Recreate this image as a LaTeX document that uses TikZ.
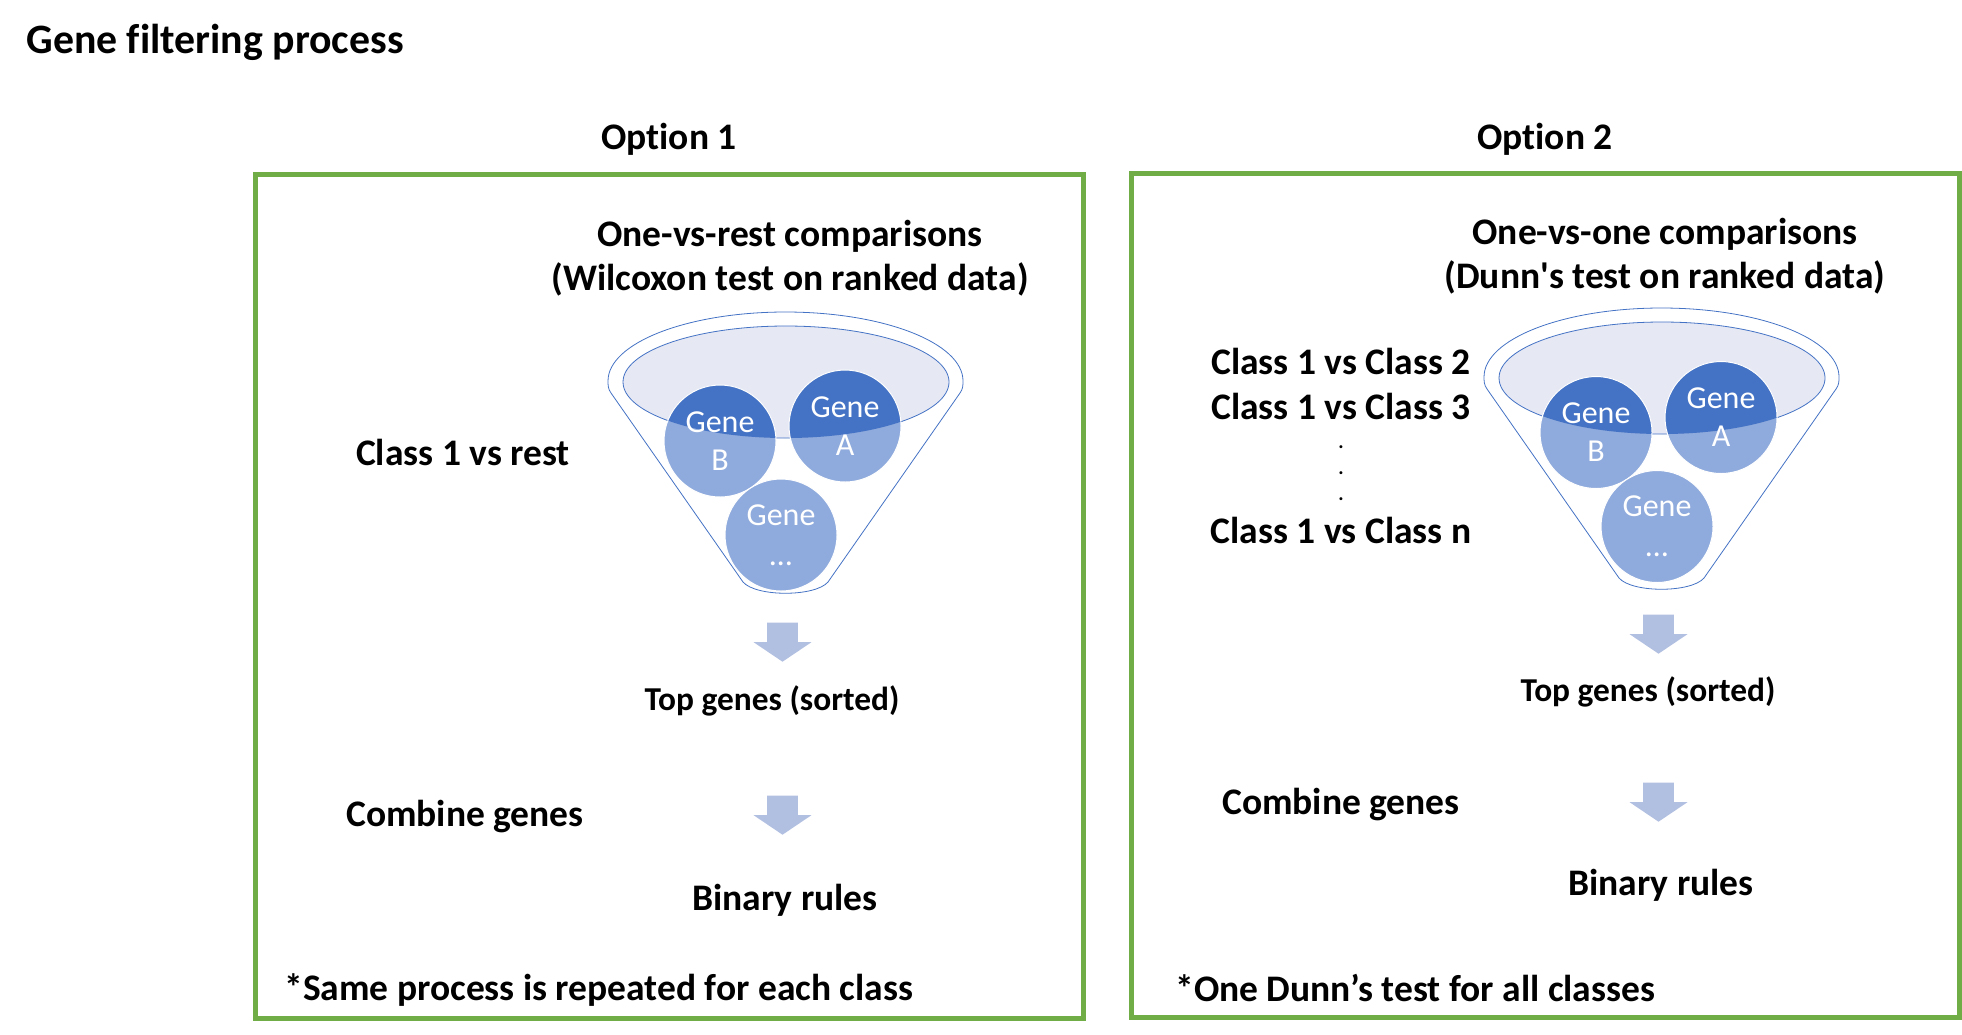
\documentclass[tikz,border=0pt]{standalone}
\usepackage{fontspec}
\setmainfont[Ligatures=NoCommon]{Carlito}
\usetikzlibrary{positioning, shapes.geometric, shapes.arrows}

\definecolor{framegreen}{HTML}{70AD47}
\definecolor{genedark}{HTML}{4472C4}
\definecolor{genelight}{HTML}{8FAADC}
\definecolor{funneltop}{HTML}{E6E8F4}
\definecolor{arrowblue}{HTML}{B1BFE0}

\tikzset{
    optionbox/.style={draw=framegreen, line width=2.5pt, minimum width=414pt, minimum height=422pt, inner sep=0pt},
    heading/.style={font=\fontsize{18.75}{22}\selectfont\bfseries, align=center, inner sep=0pt},
    smallheading/.style={font=\fontsize{16.7}{18}\selectfont\bfseries, align=center, inner sep=0pt},
    dotmark/.style={font=\fontsize{10}{10}\selectfont\bfseries, inner sep=0pt},
    downarrow/.style={single arrow, fill=arrowblue, inner sep=0pt, minimum width=28.5pt, minimum height=19.5pt,
        single arrow head extend=6.75pt, single arrow tip angle=112, single arrow head indent=0pt, shape border rotate=270,
        execute at begin node={\phantom{\rule{15pt}{5pt}}}},
    genecircle/.style={circle, draw=white, line width=0.5pt, fill=genelight, minimum size=56pt, inner sep=0pt,
        text=white, align=center, font=\fontsize{16}{19}\selectfont,
        path picture={\fill[genedark] (top.center) ellipse [x radius=81.5pt, y radius=28pt];}},
    pics/funnel/.style={code={
        \draw[genedark, line width=0.4pt, fill=white] (611,393) .. controls (608,389) and (608,385) .. (608,381)
            arc [start angle=180, end angle=0, x radius=88.75pt, y radius=34.5pt]
            .. controls (963,385) and (963,389) .. (960,393) -- (828,582)
            .. controls (815,597) and (756,597) .. (743,582) -- cycle;
        \node[ellipse, draw=genedark, line width=0.4pt, fill=funneltop, minimum width=163pt, minimum height=56pt, inner sep=0pt] (top) at (786,382) {};
        \node[genecircle] (geneB) at (720,441+#1) {Gene\\B};
        \node[genecircle] (geneA) at (845,426+#1) {Gene\\A};
        \node[genecircle] (geneN) at (781,535+#1) {Gene\\[1pt]…};
    }}
}

\begin{document}
\begin{tikzpicture}[x=0.5pt,y=-0.5pt,node distance=22pt,on grid]
    \useasboundingbox (0,0) rectangle (1962,1034);

    \node[heading, font=\fontsize{20.9}{24}\selectfont\bfseries, anchor=west] (title) at (26,42.5) {Gene filtering process};

    \node[optionbox] (box1) at (669,596) {};
    \node[optionbox] (box2) at (1545,595) {};

    \node[heading] (option1) at (669,139.5) {Option 1};
    \node[heading] (option2) at (1545,139.5) {Option 2};

    \node[heading] (rest) at (790,258.5) {One-vs-rest comparisons\\(Wilcoxon test on ranked data)};
    \node[heading] (one) at (1665,256) {One-vs-one comparisons\\(Dunn\textquotesingle s test on ranked data)};

    \pic (f1) at (0,0) {funnel=0};
    \pic (f2) at (876,-4) {funnel=-4.5};

    \node[heading] (vsrest) at (463,452) {Class 1 vs rest};

    \node[heading] (vs2) at (1341,361) {Class 1 vs Class 2};
    \node[heading] (vs3) [below=22.5pt of vs2] {Class 1 vs Class 3};
    \node[dotmark] (dot1) at (1341,447) {.};
    \node[dotmark] (dot2) at (1341,473) {.};
    \node[dotmark] (dot3) at (1341,499) {.};
    \node[heading] (vsn) at (1341,530) {Class 1 vs Class n};

    \node[downarrow] (down1) at (782.5,637) {};
    \node[downarrow] (down2) at (782.5,810) {};
    \node[downarrow] (down3) at (1658.5,629) {};
    \node[downarrow] (down4) at (1658.5,797) {};

    \node[smallheading] (top1) at (772,701) {Top genes (sorted)};
    \node[smallheading] (top2) at (1648,692) {Top genes (sorted)};

    \node[heading] (combine1) at (465,816.5) {Combine genes};
    \node[heading] (combine2) at (1341,804.5) {Combine genes};

    \node[heading] (rules1) at (785,900.5) {Binary rules};
    \node[heading] (rules2) at (1661,885.5) {Binary rules};

    \node[heading, anchor=west] (note1) at (284,990.5) {*Same process is repeated for each class};
    \node[heading, anchor=west] (note2) at (1175,988) {*One Dunn’s test for all classes};

\end{tikzpicture}
\end{document}
